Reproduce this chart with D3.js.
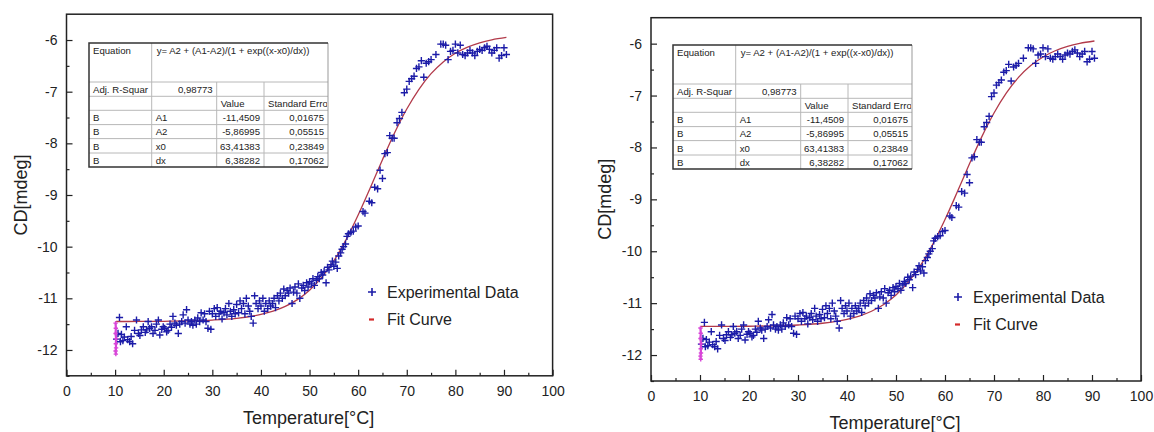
<!DOCTYPE html>
<html>
<head>
<meta charset="utf-8">
<script src="https://cdn.jsdelivr.net/npm/d3@7"></script>
<style>
  body { margin: 0; background: #fff; }
  svg { display: block; }
  text { font-family: "Liberation Sans", Arial, sans-serif; fill: #222; }
</style>
</head>
<body>
<svg width="1154" height="432"></svg>
<script>
// experimental CD melting data
var expTemp = [10.3, 10.6, 10.9, 11.1, 11.3, 11.6, 11.9, 12.3, 12.6, 13.0, 13.3, 13.6, 14.0, 14.4, 14.8, 15.1, 15.4, 15.8, 16.2, 16.5, 16.8, 17.1, 17.5, 17.8, 18.2, 18.5, 18.9, 19.2, 19.6, 19.9, 20.2, 20.6, 20.9, 21.3, 21.6, 21.9, 22.3, 22.6, 23.0, 23.3, 23.7, 24.0, 24.4, 24.7, 25.0, 25.4, 25.7, 26.0, 26.4, 26.7, 27.0, 27.4, 27.7, 28.1, 28.4, 28.7, 29.1, 29.4, 29.7, 30.0, 30.4, 30.7, 31.0, 31.4, 31.7, 32.0, 32.4, 32.7, 33.0, 33.4, 33.7, 34.0, 34.4, 34.7, 35.0, 35.4, 35.7, 36.0, 36.4, 36.7, 37.0, 37.4, 37.7, 38.0, 38.4, 38.7, 39.0, 39.4, 39.7, 40.0, 40.4, 40.7, 41.0, 41.4, 41.7, 42.0, 42.4, 42.7, 43.0, 43.4, 43.7, 44.0, 44.4, 44.7, 45.0, 45.4, 45.7, 46.0, 46.4, 46.7, 47.0, 47.4, 47.7, 48.0, 48.4, 48.7, 49.0, 49.4, 49.7, 50.0, 50.4, 50.7, 51.0, 51.4, 51.7, 52.0, 52.4, 52.7, 53.0, 53.4, 53.7, 54.0, 54.4, 54.7, 55.0, 55.4, 55.7, 56.0, 56.4, 56.7, 57.0, 57.4, 57.7, 58.0, 58.5, 59.0, 59.5, 60.0, 61.0, 61.4, 62.3, 62.8, 63.4, 64.0, 64.5, 65.0, 65.5, 66.0, 66.5, 67.0, 67.4, 68.0, 68.5, 69.0, 69.5, 70.0, 70.5, 71.0, 71.5, 72.0, 72.5, 73.0, 73.5, 74.0, 74.5, 75.0, 76.0, 77.0, 77.5, 78.0, 78.5, 79.0, 79.5, 80.0, 80.5, 81.0, 81.5, 82.0, 82.5, 83.0, 83.5, 84.0, 84.5, 85.0, 85.5, 86.0, 86.5, 87.0, 87.5, 88.0, 88.5, 89.0, 89.5, 90.0, 90.5];
var expCD = [-11.79, -11.68, -11.37, -11.84, -11.7, -11.82, -11.75, -11.55, -11.8, -11.84, -11.74, -11.88, -11.62, -11.42, -11.68, -11.72, -11.61, -11.55, -11.66, -11.61, -11.45, -11.58, -11.55, -11.68, -11.62, -11.5, -11.42, -11.71, -11.6, -11.55, -11.58, -11.65, -11.62, -11.5, -11.56, -11.35, -11.48, -11.52, -11.68, -11.5, -11.45, -11.32, -11.48, -11.22, -11.42, -11.5, -11.45, -11.52, -11.42, -11.5, -11.38, -11.45, -11.28, -11.42, -11.3, -11.45, -11.58, -11.25, -11.6, -11.3, -11.2, -11.35, -11.18, -11.3, -11.25, -11.4, -11.28, -11.2, -11.32, -11.1, -11.25, -11.35, -11.22, -11.3, -11.12, -11.28, -11.05, -11.2, -11.1, -11.3, -11.0, -11.15, -11.25, -11.35, -11.48, -10.95, -11.1, -11.2, -11.05, -11.15, -11.0, -11.25, -11.1, -11.2, -11.05, -11.15, -11.1, -11.0, -11.18, -10.95, -11.05, -10.9, -11.0, -10.82, -10.95, -10.85, -10.9, -10.8, -11.1, -10.88, -10.78, -10.9, -10.72, -11.0, -10.8, -10.75, -10.85, -10.7, -10.78, -10.68, -10.72, -10.62, -10.75, -10.65, -10.58, -10.62, -10.5, -10.55, -10.48, -10.7, -10.4, -10.45, -10.35, -10.28, -10.38, -10.3, -10.42, -10.18, -10.12, -10.05, -10.0, -9.95, -9.8, -9.75, -9.72, -9.7, -9.62, -9.6, -9.32, -9.35, -9.12, -9.15, -8.85, -8.88, -8.52, -8.68, -8.2, -8.18, -7.85, -7.9, -7.9, -7.6, -7.52, -7.4, -7.02, -6.95, -6.8, -6.75, -6.7, -6.55, -6.52, -6.4, -6.72, -6.45, -6.42, -6.38, -6.28, -6.08, -6.08, -6.1, -6.38, -6.22, -6.2, -6.08, -6.25, -6.1, -6.28, -6.3, -6.25, -6.2, -6.25, -6.3, -6.22, -6.18, -6.2, -6.15, -6.12, -6.18, -6.25, -6.2, -6.15, -6.35, -6.3, -6.15, -6.28];

// first readings at 10 °C, drawn in magenta
var startTemp = [10.1, 10.15, 10.1, 10.2, 10.15, 10.2, 10.1, 10.15];
var startCD = [-11.48, -11.58, -11.68, -11.78, -11.88, -11.96, -12.02, -12.08];

// Boltzmann fit curve
var fitTemp = [10.2, 15, 20, 25, 30, 35, 40, 42.5, 45, 47.5, 50, 52.5, 55, 57.5, 60, 62.5, 65, 67.5, 70, 72.5, 75, 77.5, 80, 82.5, 85, 87.5, 90.5];
var fitCD = [-11.449, -11.448, -11.445, -11.437, -11.421, -11.387, -11.312, -11.248, -11.156, -11.025, -10.843, -10.596, -10.273, -9.868, -9.389, -8.86, -8.316, -7.796, -7.336, -6.953, -6.651, -6.423, -6.256, -6.137, -6.053, -5.995, -5.949];

var xTicks = [0, 10, 20, 30, 40, 50, 60, 70, 80, 90, 100];
var xMinor = [5, 15, 25, 35, 45, 55, 65, 75, 85, 95];
var yTicks = [-12, -11, -10, -9, -8, -7, -6];
var yMinor = [-12.5, -11.5, -10.5, -9.5, -8.5, -7.5, -6.5];

var tableEquation = "y= A2 + (A1-A2)/(1 + exp((x-x0)/dx))";
var tableR2 = "0,98773";
var tableParams = ["A1", "A2", "x0", "dx"];
var tableValues = ["-11,4509", "-5,86995", "63,41383", "6,38282"];
var tableErrors = ["0,01675", "0,05515", "0,23849", "0,17062"];

var svg = d3.select("svg");

var panels = [
  { left: 66.5, right: 552.6, top: 14.2, bottom: 375.8, tx: 89, ty: 43, lx: 372, ly: 292, yLabX: 27, xLabY: 424 },
  { left: 651, right: 1141, top: 17.7, bottom: 381, tx: 673, ty: 45, lx: 958, ly: 297, yLabX: 611, xLabY: 429 }
];

function plus(cx, cy, r) {
  return "M" + (cx - r) + "," + cy + "H" + (cx + r) + "M" + cx + "," + (cy - r) + "V" + (cy + r);
}

function drawPanel(p, k) {
  var g = svg.append("g");
  var x = d3.scaleLinear().domain([0, 100]).range([p.left, p.right]);
  var y = d3.scaleLinear().domain([-12.5, -5.5]).range([p.bottom, p.top]);

  // axes with inward ticks
  g.append("g").attr("transform", "translate(0," + p.bottom + ")")
    .call(d3.axisBottom(x).tickValues(xTicks).tickSize(-6).tickPadding(10).tickFormat(function(d) { return String(d); }));
  g.append("g").attr("transform", "translate(0," + p.bottom + ")")
    .call(d3.axisBottom(x).tickValues(xMinor).tickSize(-3).tickFormat(""));
  g.append("g").attr("transform", "translate(" + p.left + ",0)")
    .call(d3.axisLeft(y).tickValues(yTicks).tickSize(-6).tickPadding(9).tickFormat(function(d) { return String(d); }));
  g.append("g").attr("transform", "translate(" + p.left + ",0)")
    .call(d3.axisLeft(y).tickValues(yMinor).tickSize(-3).tickFormat(""));
  g.selectAll(".domain").remove();
  g.selectAll(".tick line").attr("stroke", "#222").attr("stroke-width", 1.2);
  g.selectAll(".tick text").attr("font-size", 14).attr("fill", "#222")
    .style("font-family", "'Liberation Sans', Arial, sans-serif");

  // frame
  g.append("rect")
    .attr("x", p.left).attr("y", p.top)
    .attr("width", p.right - p.left).attr("height", p.bottom - p.top)
    .attr("fill", "none").attr("stroke", "#222").attr("stroke-width", 1.5);

  // axis titles
  g.append("text")
    .attr("transform", "translate(" + p.yLabX + "," + ((p.top + p.bottom) / 2) + ") rotate(-90)")
    .attr("text-anchor", "middle").attr("font-size", 18).text("CD[mdeg]");
  g.append("text")
    .attr("x", (p.left + p.right) / 2 - 1).attr("y", p.xLabY)
    .attr("text-anchor", "middle").attr("font-size", 18).text("Temperature[°C]");

  // fit curve
  var line = d3.line()
    .x(function(d, i) { return x(fitTemp[i]); })
    .y(function(d) { return y(d); })
    .curve(d3.curveMonotoneX);
  g.append("path").datum(fitCD)
    .attr("d", line).attr("fill", "none")
    .attr("stroke", "#b23a4a").attr("stroke-width", 1.3);

  // experimental points
  g.append("g").selectAll("path").data(expCD).join("path")
    .attr("d", function(d, i) { return plus(x(expTemp[i]), y(d), 3.6); })
    .attr("stroke", "#1c1ca8").attr("stroke-width", 1.4).attr("fill", "none");

  // magenta start readings
  var sl = d3.line().x(function(d, i) { return x(startTemp[i]); }).y(function(d) { return y(d); });
  g.append("path").datum(startCD).attr("d", sl)
    .attr("fill", "none").attr("stroke", "#d845d8").attr("stroke-width", 2.2);
  g.append("g").selectAll("path").data(startCD).join("path")
    .attr("d", function(d, i) { return plus(x(startTemp[i]), y(d), 2.2); })
    .attr("stroke", "#d845d8").attr("stroke-width", 1.4).attr("fill", "none");

  // legend
  g.append("path").attr("d", plus(p.lx, p.ly, 4))
    .attr("stroke", "#1c1ca8").attr("stroke-width", 1.6);
  g.append("text").attr("x", p.lx + 15).attr("y", p.ly + 6).attr("font-size", 16).text("Experimental Data");
  g.append("line").attr("x1", p.lx - 3).attr("x2", p.lx + 2)
    .attr("y1", p.ly + 27.5).attr("y2", p.ly + 27.5)
    .attr("stroke", "#d42a2a").attr("stroke-width", 2.2);
  g.append("text").attr("x", p.lx + 15).attr("y", p.ly + 33).attr("font-size", 16).text("Fit Curve");

  drawTable(g, p.tx, p.ty, k);
}

function drawTable(g, tx, ty, k) {
  var cols = [0, 62.7, 127.7, 175, 239];
  var rows = [0, 39, 53.3, 67.3, 81.6, 95.6, 110, 124];
  var fs = 9.6;
  var t = g.append("g").attr("transform", "translate(" + tx + "," + ty + ")");
  t.append("clipPath").attr("id", "tclip" + k)
    .append("rect").attr("width", cols[4] - 1).attr("height", rows[7]);
  t.append("rect").attr("width", cols[4]).attr("height", rows[7]).attr("fill", "#fff");

  // inner grid
  rows.slice(1, 7).forEach(function(r) {
    t.append("line").attr("x1", 0).attr("x2", cols[4]).attr("y1", r).attr("y2", r)
      .attr("stroke", "#b8b8b8").attr("stroke-width", 1);
  });
  t.append("line").attr("x1", cols[1]).attr("x2", cols[1]).attr("y1", 0).attr("y2", rows[7])
    .attr("stroke", "#b8b8b8");
  [cols[2], cols[3]].forEach(function(c) {
    t.append("line").attr("x1", c).attr("x2", c).attr("y1", rows[1]).attr("y2", rows[7])
      .attr("stroke", "#b8b8b8");
  });
  t.append("line").attr("x1", cols[4]).attr("x2", cols[4]).attr("y1", 0).attr("y2", rows[7])
    .attr("stroke", "#999");
  t.append("path").attr("d", "M" + cols[4] + ",0H0V" + rows[7] + "H" + cols[4])
    .attr("fill", "none").attr("stroke", "#333").attr("stroke-width", 1.5);

  var txt = t.append("g").attr("clip-path", "url(#tclip" + k + ")");
  function cell(s, col, row, align) {
    var xx = align === "end" ? cols[col + 1] - 4 : cols[col] + 4;
    txt.append("text").attr("x", xx).attr("y", rows[row + 1] - 3.3)
      .attr("text-anchor", align || "start").attr("font-size", fs).text(s);
  }
  txt.append("text").attr("x", 4).attr("y", 10.5).attr("font-size", fs).text("Equation");
  txt.append("text").attr("x", cols[1] + 5).attr("y", 10.5).attr("font-size", fs).text(tableEquation);
  cell("Adj. R-Squar", 0, 1);
  cell(tableR2, 1, 1, "end");
  cell("Value", 2, 2);
  cell("Standard Erro", 3, 2);
  tableParams.forEach(function(name, i) {
    cell("B", 0, 3 + i);
    cell(name, 1, 3 + i);
    cell(tableValues[i], 2, 3 + i, "end");
    cell(tableErrors[i], 3, 3 + i, "end");
  });
}

panels.forEach(drawPanel);
</script>
</body>
</html>
